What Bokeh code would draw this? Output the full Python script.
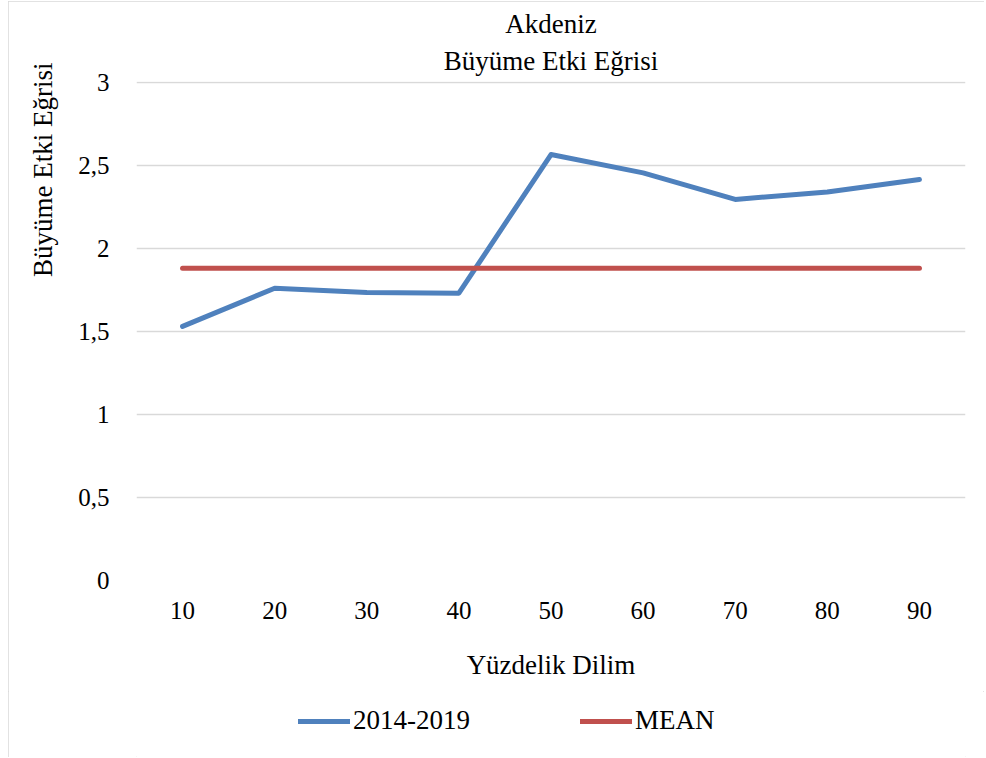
from bokeh.plotting import figure
from bokeh.layouts import column
from bokeh.models import (Range1d, FixedTicker, Legend, LegendItem, Title)
from bokeh.embed import file_html
from bokeh.resources import INLINE

# ---- data ----
percentiles = [10, 20, 30, 40, 50, 60, 70, 80, 90]
growth_2014_2019 = [1.53, 1.76, 1.735, 1.73, 2.565, 2.455, 2.295, 2.34, 2.415]
mean_values = [1.88, 1.88, 1.88, 1.88, 1.88, 1.88, 1.88, 1.88, 1.88]
y_ticks = [0, 0.5, 1, 1.5, 2, 2.5, 3]
y_tick_labels = ["0", "0,5", "1", "1,5", "2", "2,5", "3"]
series_names = ["2014-2019", "MEAN"]
title_line1 = "Akdeniz"
title_line2 = "Büyüme Etki Eğrisi"
x_title = "Yüzdelik Dilim"
y_title = "Büyüme Etki Eğrisi"

FONT = "Liberation Serif"
BLUE = "#4F81BD"
RED = "#C0504D"
GRID = "#d9d9d9"
LW = 5

W = 976
p = figure(width=W, height=690, output_backend="svg", toolbar_location=None,
           title=None,
           x_range=Range1d(5, 95), y_range=Range1d(0, 3.005),
           min_border_left=127, min_border_right=19,
           min_border_top=80, min_border_bottom=111)
p.outline_line_color = None
p.background_fill_color = "white"
p.border_fill_color = "white"

# two centred title lines (first added sits closest to the plot)
t2 = Title(text=title_line2, align="center", text_font=FONT, text_font_size="27px",
           text_font_style="normal", text_color="black", standoff=11)
t1 = Title(text=title_line1, align="center", text_font=FONT, text_font_size="27px",
           text_font_style="normal", text_color="black", standoff=0)
p.add_layout(t2, "above")
p.add_layout(t1, "above")

# axes
p.xaxis.ticker = FixedTicker(ticks=percentiles)
p.yaxis.ticker = FixedTicker(ticks=y_ticks)
p.yaxis.major_label_overrides = {t: l for t, l in zip(y_ticks, y_tick_labels)}
for ax in (p.xaxis, p.yaxis):
    ax.axis_line_color = None
    ax.major_tick_line_color = None
    ax.minor_tick_line_color = None
    ax.major_tick_in = 0
    ax.major_tick_out = 0
    ax.major_label_text_font = FONT
    ax.major_label_text_font_size = "25px"
    ax.major_label_text_color = "black"
p.xaxis.major_label_standoff = 21
p.yaxis.major_label_standoff = 27
p.xaxis.axis_label = x_title
p.xaxis.axis_label_text_font = FONT
p.xaxis.axis_label_text_font_size = "27px"
p.xaxis.axis_label_text_font_style = "normal"
p.xaxis.axis_label_text_color = "black"
p.xaxis.axis_label_standoff = 28

p.xgrid.grid_line_color = None
p.ygrid.grid_line_color = GRID
p.ygrid.grid_line_width = 1.5

# y-axis title placed like Excel (upper part of the axis)
ytitle = Title(text=y_title, align="right", offset=-19, text_font=FONT,
               text_font_size="27px", text_font_style="normal",
               text_color="black", standoff=35)
p.add_layout(ytitle, "left")

r1 = p.line(percentiles, growth_2014_2019, line_color=BLUE, line_width=LW,
            line_cap="round", line_join="round")
r2 = p.line(percentiles, mean_values, line_color=RED, line_width=LW,
            line_cap="round", line_join="round")

# legend strip below the chart (its own series drawn out of view, only keys show)
pl = figure(width=W, height=66, output_backend="svg", toolbar_location=None,
            title=None, x_range=Range1d(5, 95), y_range=Range1d(10, 11),
            x_axis_type=None, y_axis_type=None,
            min_border_left=0, min_border_right=0,
            min_border_top=0, min_border_bottom=0)
pl.outline_line_color = None
pl.grid.visible = False
pl.background_fill_color = "white"
pl.border_fill_color = "white"
l1 = pl.line(percentiles, growth_2014_2019, line_color=BLUE, line_width=LW, line_cap="round")
l2 = pl.line(percentiles, mean_values, line_color=RED, line_width=LW, line_cap="round")
legend = Legend(items=[LegendItem(label=series_names[0], renderers=[l1]),
                       LegendItem(label=series_names[1], renderers=[l2])],
                orientation="horizontal", location=(162, 21),
                glyph_width=52, glyph_height=26, label_standoff=3, spacing=110,
                padding=0, margin=0, border_line_alpha=0, background_fill_alpha=0,
                label_text_font=FONT, label_text_font_size="27px",
                label_text_color="black")
pl.add_layout(legend)

layout = column(p, pl, spacing=0,
                styles={"margin-left": "8px", "margin-top": "1px",
                        "outline": "1.5px solid #d9d9d9", "outline-offset": "-1.5px"})

open("out.html", "w").write(file_html(layout, INLINE))
